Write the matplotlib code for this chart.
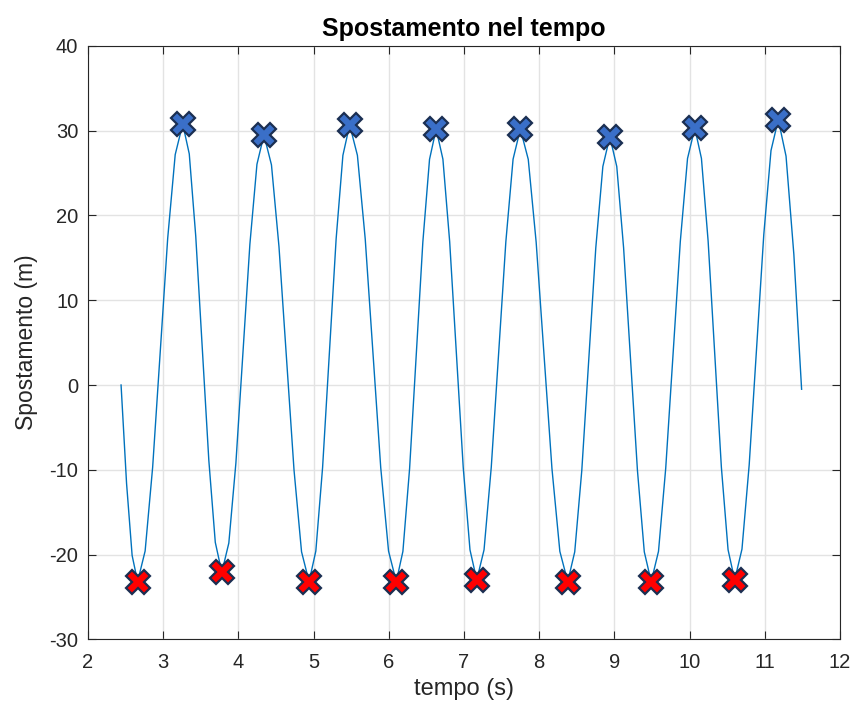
import matplotlib
matplotlib.use("Agg")
import matplotlib.pyplot as plt

plt.rcParams['font.family'] = ['Liberation Sans', 'DejaVu Sans']
plt.rcParams['axes.unicode_minus'] = False

# Curve points (time in s, displacement in m)
tempo = [2.44, 2.513, 2.587,
         2.66, 2.76, 2.86, 2.96, 3.06, 3.16,
         3.26, 3.347, 3.433, 3.52, 3.607, 3.693,
         3.78, 3.873, 3.967, 4.06, 4.153, 4.247,
         4.34, 4.44, 4.54, 4.64, 4.74, 4.84,
         4.94, 5.03, 5.12, 5.21, 5.30, 5.39,
         5.48, 5.583, 5.687, 5.79, 5.893, 5.997,
         6.10, 6.188, 6.277, 6.365, 6.453, 6.542,
         6.63, 6.72, 6.81, 6.90, 6.99, 7.08,
         7.17, 7.267, 7.363, 7.46, 7.557, 7.653,
         7.75, 7.855, 7.96, 8.065, 8.17, 8.275,
         8.38, 8.473, 8.567, 8.66, 8.753, 8.847,
         8.94, 9.032, 9.123, 9.215, 9.307, 9.398,
         9.49, 9.587, 9.683, 9.78, 9.877, 9.973,
         10.07, 10.158, 10.247, 10.335, 10.423, 10.512,
         10.60, 10.697, 10.793, 10.89, 10.987, 11.083,
         11.18, 11.283, 11.387, 11.49]
spostamento = [0.0, -11.6, -20.1,
               -23.2, -19.58, -9.7, 3.8, 17.3, 27.18,
               30.8, 27.26, 17.57, 4.35, -8.88, -18.56,
               -22.1, -18.64, -9.2, 3.7, 16.6, 26.04,
               29.5, 25.97, 16.32, 3.15, -10.03, -19.67,
               -23.2, -19.59, -9.72, 3.75, 17.23, 27.09,
               30.7, 27.09, 17.22, 3.75, -9.73, -19.59,
               -23.2, -19.62, -9.85, 3.5, 16.85, 26.62,
               30.2, 26.64, 16.9, 3.6, -9.7, -19.44,
               -23.0, -19.44, -9.7, 3.6, 16.9, 26.64,
               30.2, 26.62, 16.85, 3.5, -9.85, -19.62,
               -23.2, -19.68, -10.07, 3.05, 16.18, 25.78,
               29.3, 25.78, 16.17, 3.05, -10.08, -19.68,
               -23.2, -19.62, -9.82, 3.55, 16.93, 26.72,
               30.3, 26.73, 16.97, 3.65, -9.68, -19.43,
               -23.0, -19.36, -9.42, 4.15, 17.73, 27.66,
               31.3, 27.0, 15.4, -0.5]

# Peaks (maxima) and valleys (minima)
t_max = [3.26, 4.34, 5.48, 6.63, 7.75, 8.94, 10.07, 11.18]
y_max = [30.8, 29.5, 30.7, 30.2, 30.2, 29.3, 30.3, 31.3]
t_min = [2.66, 3.78, 4.94, 6.10, 7.17, 8.38, 9.49, 10.60]
y_min = [-23.2, -22.1, -23.2, -23.2, -23.0, -23.2, -23.2, -23.0]

xticks = [2, 3, 4, 5, 6, 7, 8, 9, 10, 11, 12]
yticks = [-30, -20, -10, 0, 10, 20, 30, 40]

fig = plt.figure(figsize=(8.55, 7.11), dpi=100)
ax = fig.add_axes([0.1029, 0.1008, 0.8795, 0.8346])

ax.plot(tempo, spostamento, color='#0072BD', lw=1.0, zorder=3)
edge = '#1b2f52'
ax.plot(t_max, y_max, linestyle='none', marker='X', markersize=17,
        markerfacecolor='#3a6fc8', markeredgecolor=edge, markeredgewidth=1.6, zorder=4)
ax.plot(t_min, y_min, linestyle='none', marker='X', markersize=17,
        markerfacecolor='#ff0000', markeredgecolor=edge, markeredgewidth=1.6, zorder=4)

ax.set_xlim(2, 12)
ax.set_ylim(-30, 40)
ax.set_xticks(xticks)
ax.set_yticks(yticks)
ax.grid(True, color='#e3e3e3', lw=1.0, zorder=0)
ax.set_axisbelow(True)

axis_col = '#262626'
for s in ax.spines.values():
    s.set_color(axis_col)
    s.set_linewidth(0.8)
ax.tick_params(direction='in', length=6, width=0.8, colors=axis_col,
               labelsize=14.5, top=True, right=True)
ax.tick_params(axis='x', pad=10)
ax.tick_params(axis='y', pad=7)

ax.set_xlabel('tempo (s)', fontsize=17, color=axis_col, labelpad=4)
ax.set_ylabel('Spostamento (m)', fontsize=16.5, color=axis_col, labelpad=8)
ax.set_title('Spostamento nel tempo', fontsize=18, fontweight='bold', color='black', pad=7)

fig.savefig('out.png', dpi=100)
